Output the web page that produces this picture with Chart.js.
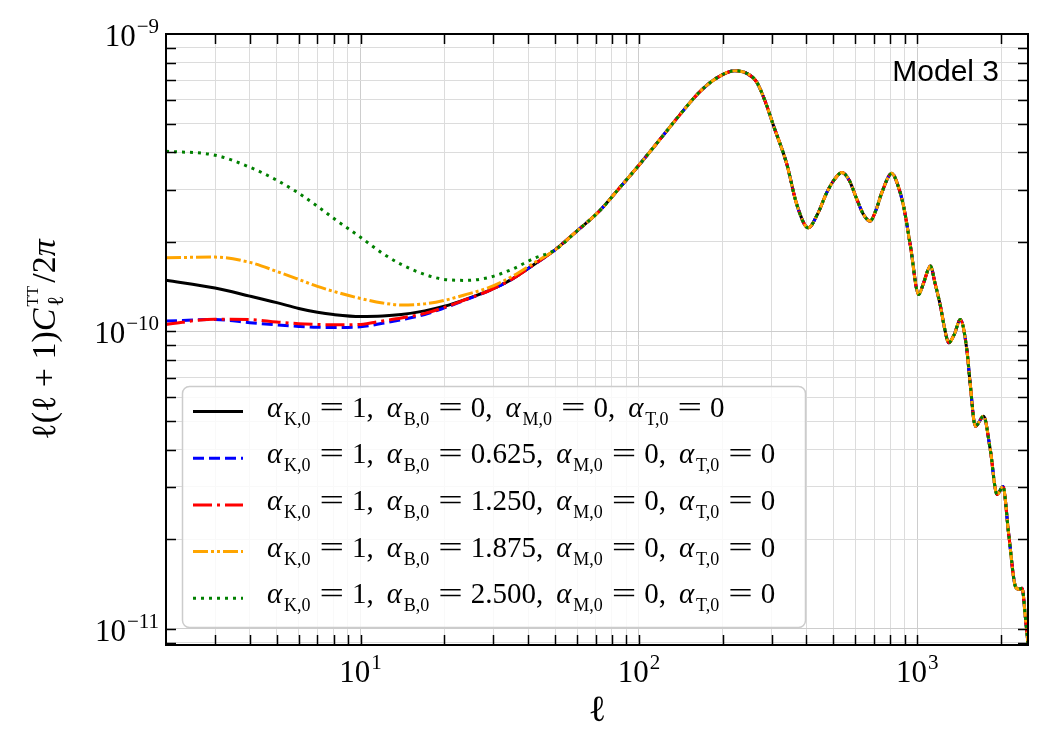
<!DOCTYPE html>
<html>
<head>
<meta charset="utf-8">
<script src="https://cdn.jsdelivr.net/npm/chart.js@4.4.1/dist/chart.umd.min.js"></script>
<style>
  html, body { margin: 0; padding: 0; background: #fff; }
  #wrap { width: 1050px; height: 750px; }
</style>
</head>
<body>
<div id="wrap"><canvas id="cltt" width="1050" height="750"></canvas></div>
<script>
// low multipoles, where the five models differ (units of 1e-10)
const lowEll = [2, 3, 4, 5, 6, 7, 8, 10, 12, 14, 17, 20, 24, 29, 35, 42];
const clBlack  = [1.486, 1.40, 1.315, 1.25, 1.195, 1.16, 1.14, 1.123, 1.127, 1.14, 1.173, 1.215, 1.285, 1.375, 1.50, 1.68];
const clBlue   = [1.084, 1.097, 1.07, 1.052, 1.04, 1.033, 1.032, 1.037, 1.065, 1.095, 1.14, 1.20, 1.28, 1.372, 1.50, 1.68];
const clRed    = [1.056, 1.10, 1.097, 1.076, 1.062, 1.056, 1.053, 1.056, 1.085, 1.11, 1.15, 1.205, 1.283, 1.373, 1.50, 1.68];
const clOrange = [1.770, 1.778, 1.707, 1.592, 1.496, 1.417, 1.364, 1.291, 1.247, 1.228, 1.238, 1.272, 1.332, 1.406, 1.53, 1.70];
const clGreen  = [4.036, 3.914, 3.566, 3.224, 2.914, 2.636, 2.401, 2.073, 1.830, 1.681, 1.555, 1.496, 1.485, 1.520, 1.618, 1.761];

// high multipoles, shared by all models (units of 1e-10)
const highEll = [50, 60, 72, 85, 100, 120, 140, 165, 190, 221, 245, 265, 285, 304, 340, 369, 406, 440, 473, 505, 536, 570, 607, 640, 677, 710, 746, 811, 850, 893, 945, 1012, 1055, 1115, 1161, 1211, 1255, 1297, 1360, 1428, 1507, 1549, 1617, 1732, 1830, 1935, 2033, 2129, 2252, 2310, 2381, 2445, 2500];
const highCl = [1.881, 2.18, 2.535, 3.03, 3.622, 4.465, 5.338, 6.378, 7.108, 7.522, 7.362, 6.891, 5.90, 4.94, 3.65, 2.677, 2.23, 2.50, 2.93, 3.25, 3.42, 3.22, 2.78, 2.48, 2.35, 2.55, 2.93, 3.40, 3.12, 2.64, 1.94, 1.33, 1.46, 1.66, 1.44, 1.22, 1.02, 0.916, 0.98, 1.097, 0.87, 0.67, 0.48, 0.519, 0.40, 0.283, 0.301, 0.21, 0.139, 0.136, 0.137, 0.11, 0.089];

const alphaB = ['0', '0.625', '1.250', '1.875', '2.500'];
const lineColors = ['#000000', '#0000ff', '#ff0000', '#ffa500', '#008000'];
const lineDashes = [[], [11, 5], [19, 5, 3, 5], [15, 3, 3, 3, 3, 3], [3, 5]];
const lowSeries = [clBlack, clBlue, clRed, clOrange, clGreen];

const xTickExps = [1, 2, 3];
const yTickExps = [-11, -10, -9];
const xMin = 2, xMax = 2500, yMin = 8.83e-12, yMax = 1e-9;

const SERIF = '"Liberation Serif", "DejaVu Serif", serif';

function toPoints(ells, vals) {
  return ells.map((l, i) => ({ x: l, y: vals[i] * 1e-10 }));
}

function logTicks(min, max) {
  const out = [];
  for (let e = Math.floor(Math.log10(min)); e <= Math.ceil(Math.log10(max)); e++) {
    for (let m = 1; m <= 9; m++) {
      const v = m * Math.pow(10, e);
      if (v >= min * 0.999 && v <= max * 1.001) out.push({ value: v, major: m === 1 });
    }
  }
  return out;
}

// draws (or only measures) a run of text pieces, each with its own font and offset
function runText(ctx, parts, x, y, draw) {
  let cx = x;
  parts.forEach(p => {
    if (p.stack) {
      let w = 0;
      p.stack.forEach(s => {
        ctx.font = s.font;
        if (draw) ctx.fillText(s.t, cx, y + s.dy);
        w = Math.max(w, ctx.measureText(s.t).width);
      });
      cx += w + (p.gap || 0);
      return;
    }
    ctx.font = p.font;
    if (draw) ctx.fillText(p.t, cx, y + (p.dy || 0));
    cx += ctx.measureText(p.t).width + (p.gap || 0);
  });
  return cx - x;
}

function powLabel(exp) {
  const s = exp < 0 ? '\u2212' + (-exp) : String(exp);
  return [
    { t: '10', font: '31px ' + SERIF, gap: 1 },
    { t: s, font: '21px ' + SERIF, dy: -13 }
  ];
}

// one legend entry: alpha_{K,0} = 1, alpha_{B,0} = b, alpha_{M,0} = 0, alpha_{T,0} = 0
function legendText(ctx, b, x0, base) {
  const it = 'italic 29px ' + SERIF, rm = '29px ' + SERIF, sb = '18px ' + SERIF;
  const items = [['K,0', '1'], ['B,0', b], ['M,0', '0'], ['T,0', '0']];
  let gx = x0;
  items.forEach(([sub, val], k) => {
    ctx.font = it;
    ctx.fillText('\u03b1', gx, base);
    ctx.font = sb;
    ctx.fillText(sub, gx + 17, base + 8);
    let cx = gx + 17 + ctx.measureText(sub).width + 9;
    ctx.font = rm;
    const ew = ctx.measureText('=').width;
    ctx.save();
    ctx.translate(cx, base);
    ctx.scale(1.5, 1);
    ctx.fillText('=', 0, 0);
    ctx.restore();
    cx += ew * 1.5 + 8;
    const txt = val + (k < 3 ? ',' : '');
    ctx.fillText(txt, cx, base);
    gx = cx + ctx.measureText(txt).width + 13;
  });
}

const decor = {
  id: 'decor',
  afterDraw(chart) {
    const { ctx, chartArea: a, scales: { x, y } } = chart;
    ctx.save();

    // inward ticks on all four sides
    ctx.strokeStyle = '#000';
    ctx.lineWidth = 1.5;
    ctx.beginPath();
    x.ticks.forEach(t => {
      const px = Math.round(x.getPixelForValue(t.value)) + 0.5;
      if (px <= a.left + 1 || px >= a.right - 1) return;
      ctx.moveTo(px, a.bottom); ctx.lineTo(px, a.bottom - 10);
      ctx.moveTo(px, a.top); ctx.lineTo(px, a.top + 10);
    });
    y.ticks.forEach(t => {
      const py = Math.round(y.getPixelForValue(t.value)) + 0.5;
      if (py <= a.top + 1 || py >= a.bottom - 1) return;
      ctx.moveTo(a.left, py); ctx.lineTo(a.left + 10, py);
      ctx.moveTo(a.right, py); ctx.lineTo(a.right - 10, py);
    });
    ctx.stroke();

    // frame
    ctx.lineWidth = 2;
    ctx.strokeRect(a.left, a.top, a.right - a.left, a.bottom - a.top);

    // tick labels
    ctx.fillStyle = '#000';
    ctx.textBaseline = 'alphabetic';
    ctx.textAlign = 'left';
    xTickExps.forEach(e => {
      const parts = powLabel(e);
      const w = runText(ctx, parts, 0, 0, false);
      const px = x.getPixelForValue(Math.pow(10, e));
      runText(ctx, parts, px - w / 2, a.bottom + 37, true);
    });
    yTickExps.forEach(e => {
      const parts = powLabel(e);
      const w = runText(ctx, parts, 0, 0, false);
      const py = y.getPixelForValue(Math.pow(10, e));
      runText(ctx, parts, a.left - 7 - w, py + 12, true);
    });

    // x title
    ctx.font = '37px ' + SERIF;
    ctx.textAlign = 'center';
    ctx.fillText('\u2113', (a.left + a.right) / 2, 721);
    ctx.textAlign = 'left';

    // y title
    const rm = '34px ' + SERIF, it = 'italic 34px ' + SERIF;
    const yParts = [
      { t: '\u2113', font: rm },
      { t: '(', font: rm },
      { t: '\u2113', font: rm },
      { t: ' + 1)', font: rm },
      { t: 'C', font: it, gap: 2 },
      { stack: [
        { t: '\u2113', font: '23px ' + SERIF, dy: 8 },
        { t: 'TT', font: '17px ' + SERIF, dy: -17 }
      ], gap: 3 },
      { t: '/2', font: rm },
      { t: '\u03c0', font: it }
    ];
    const yw = runText(ctx, yParts, 0, 0, false);
    ctx.save();
    ctx.translate(55, (a.top + a.bottom) / 2);
    ctx.rotate(-Math.PI / 2);
    runText(ctx, yParts, -yw / 2, 0, true);
    ctx.restore();

    // model tag
    ctx.font = '30px "Liberation Sans", Arial, sans-serif';
    ctx.textAlign = 'right';
    ctx.fillText('Model 3', 999, 81);
    ctx.textAlign = 'left';

    // legend
    const bx = 182.5, by = 386.5, bw = 623, bh = 241;
    ctx.beginPath();
    ctx.roundRect(bx, by, bw, bh, 7);
    ctx.fillStyle = 'rgba(255,255,255,0.82)';
    ctx.fill();
    ctx.strokeStyle = '#cccccc';
    ctx.lineWidth = 1.5;
    ctx.stroke();
    alphaB.forEach((b, i) => {
      const ry = 411.5 + i * 46.7;
      ctx.strokeStyle = lineColors[i];
      ctx.lineWidth = 3;
      ctx.setLineDash(lineDashes[i]);
      ctx.beginPath();
      ctx.moveTo(193, ry); ctx.lineTo(243, ry);
      ctx.stroke();
      ctx.setLineDash([]);
      ctx.fillStyle = '#000';
      legendText(ctx, b, 267, ry + 5);
    });

    ctx.restore();
  }
};

const datasets = lowSeries.map((low, i) => ({
  label: 'alpha_B0 = ' + alphaB[i],
  data: toPoints(lowEll, low).concat(toPoints(highEll, highCl)),
  borderColor: lineColors[i],
  borderDash: lineDashes[i],
  borderWidth: 3,
  borderCapStyle: 'butt',
  pointRadius: 0,
  fill: false,
  cubicInterpolationMode: 'monotone',
  order: 4 - i   // green ends up drawn last, on top
}));

const gridColor = c => (c.tick && c.tick.major ? '#cdcdcd' : '#dcdcdc');

new Chart(document.getElementById('cltt'), {
  type: 'line',
  data: { datasets },
  options: {
    responsive: false,
    animation: false,
    parsing: false,
    layout: { padding: { left: 0, right: 22, top: 34, bottom: 0 } },
    plugins: { legend: { display: false }, tooltip: { enabled: false } },
    scales: {
      x: {
        type: 'logarithmic',
        min: xMin, max: xMax,
        afterBuildTicks: s => { s.ticks = logTicks(xMin, xMax); },
        afterFit: s => { s.height = 105; },
        ticks: { display: false },
        grid: { color: gridColor, lineWidth: 1, drawTicks: false },
        border: { display: false }
      },
      y: {
        type: 'logarithmic',
        min: yMin, max: yMax,
        afterBuildTicks: s => { s.ticks = logTicks(yMin, yMax); },
        afterFit: s => { s.width = 166; },
        ticks: { display: false },
        grid: { color: gridColor, lineWidth: 1, drawTicks: false },
        border: { display: false }
      }
    }
  },
  plugins: [decor]
});
</script>
</body>
</html>
